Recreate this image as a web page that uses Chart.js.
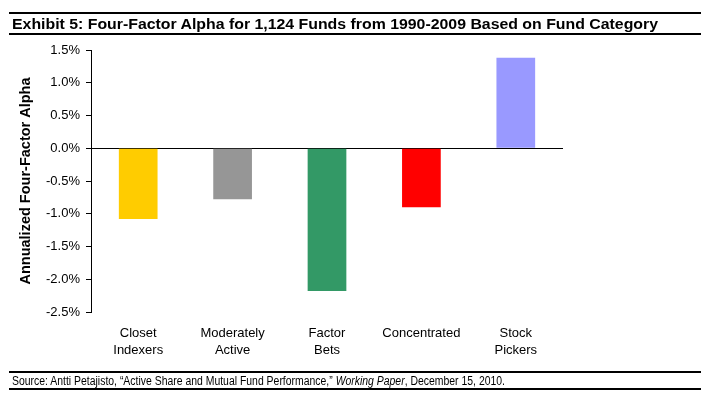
<!DOCTYPE html>
<html>
<head>
<meta charset="utf-8">
<script src="https://cdn.jsdelivr.net/npm/chart.js@4.4.1/dist/chart.umd.min.js"></script>
<style>
  body { margin: 0; background: #fff; }
  #wrap { position: relative; width: 713px; height: 399px; overflow: hidden; }
  canvas { position: absolute; left: 0; top: 0; }
  .rule { position: absolute; left: 9px; width: 692px; height: 2px; background: #000; }
  .txt { position: absolute; left: 12px; white-space: nowrap; transform-origin: 0 50%;
         font-family: 'Liberation Sans', Arial, sans-serif; color: #000; }
</style>
</head>
<body>
<div id="wrap">
  <canvas id="alpha" width="713" height="399"></canvas>
  <div class="rule" style="top:12px"></div>
  <div class="txt" id="title" data-w="646" style="top:16px; font-size:14.5px; font-weight:bold; line-height:16px">Exhibit 5: Four-Factor Alpha for 1,124 Funds from 1990-2009 Based on Fund Category</div>
  <div class="rule" style="top:33px"></div>
  <div class="rule" style="top:371px"></div>
  <div class="txt" id="source" data-w="493" style="top:374px; font-size:12px; line-height:14px">Source: Antti Petajisto, “Active Share and Mutual Fund Performance,” <i>Working Paper</i>, December 15, 2010.</div>
  <div class="rule" style="top:388px"></div>
</div>
<script>
const categories = [['Closet', 'Indexers'], ['Moderately', 'Active'], ['Factor', 'Bets'], ['Concentrated'], ['Stock', 'Pickers']];
const alphaValues = [-1.08, -0.78, -2.18, -0.90, 1.38];
const barColors = ['#FFCC00', '#969696', '#339966', '#FF0000', '#9999FF'];
const yMin = -2.5, yMax = 1.5, yStep = 0.5;

// squeeze the narrow-font texts to the width they have in the picture
document.querySelectorAll('.txt').forEach(el => {
    const w = el.getBoundingClientRect().width;
    el.style.transform = 'scaleX(' + (el.dataset.w / w) + ')';
});

Chart.defaults.font.family = "'Liberation Sans', Arial, sans-serif";
Chart.defaults.color = '#000';

new Chart(document.getElementById('alpha').getContext('2d'), {
    type: 'bar',
    data: {
        labels: categories,
        datasets: [{
            data: alphaValues,
            backgroundColor: barColors,
            barPercentage: 0.41,
            categoryPercentage: 1,
        }],
    },
    options: {
        responsive: false,
        animation: false,
        devicePixelRatio: 1,
        layout: { padding: { top: 50, right: 150, bottom: 0, left: 0 } },
        plugins: { legend: { display: false }, tooltip: { enabled: false } },
        scales: {
            x: {
                grid: { display: false },
                border: { display: false },
                ticks: { font: { size: 13, lineHeight: 1.3 }, padding: 5, maxRotation: 0, autoSkip: false },
                afterFit: s => { s.height = 87; },
            },
            y: {
                min: yMin,
                max: yMax,
                ticks: {
                    stepSize: yStep,
                    font: { size: 13 },
                    padding: 6,
                    callback: v => v.toFixed(1) + '%',
                },
                grid: {
                    color: c => (c.tick && c.tick.value === 0) ? '#000' : 'rgba(0,0,0,0)',
                    tickColor: '#000',
                    tickLength: 5,
                    lineWidth: 1,
                },
                border: { display: true, color: '#000', width: 1 },
                title: {
                    display: true,
                    text: 'Annualized Four-Factor Alpha',
                    font: { size: 14.5, weight: 'bold' },
                    padding: { top: 17, bottom: 0 },
                },
                afterFit: s => { s.width = 91; },
            },
        },
    },
});
</script>
</body>
</html>
